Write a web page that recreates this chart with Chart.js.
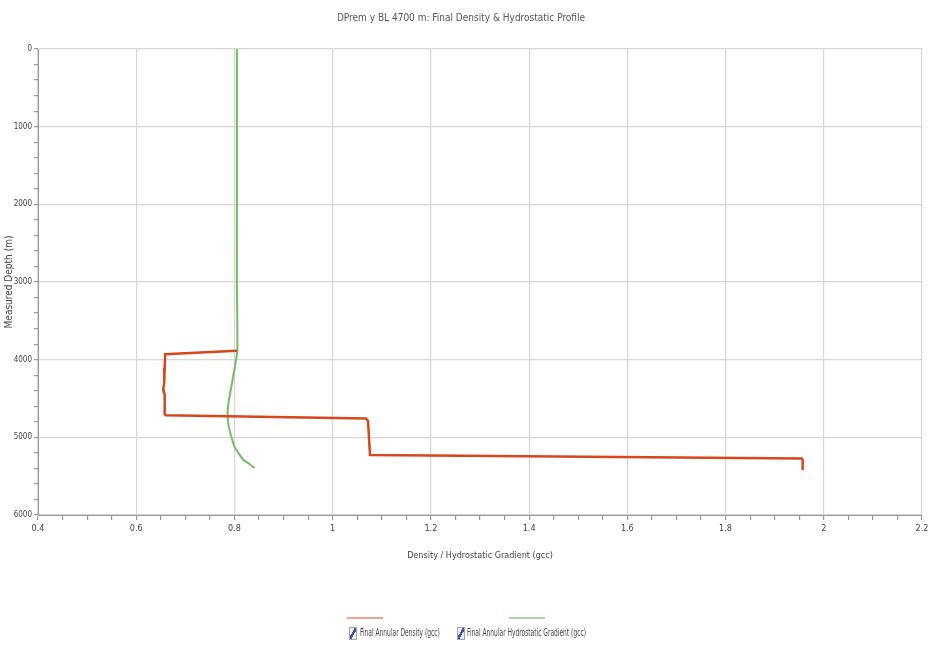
<!DOCTYPE html>
<html>
<head>
<meta charset="utf-8">
<script src="https://cdn.jsdelivr.net/npm/chart.js@4.4.1/dist/chart.umd.min.js"></script>
<style>
  body { margin: 0; background: #fff; }
  #wrap { position: relative; width: 940px; height: 651px; }
  #legend { position: absolute; left: 0; top: 0; width: 940px; height: 651px; pointer-events: none;
            font-family: "DejaVu Sans Condensed", "DejaVu Sans", sans-serif; font-size: 10px; color: #444; }
  .ln { position: absolute; height: 2px; width: 36px; top: 617px; }
  .cb { position: absolute; top: 627px; width: 6px; height: 11px; border: 1px solid #a0a6b6; background: #eef0f6;
        background-image: linear-gradient(to bottom right, transparent 38%, #4652a8 38%, #4652a8 62%, transparent 62%); }
  .tx { position: absolute; top: 627px; white-space: nowrap; transform: scaleX(0.66); transform-origin: left center; }
</style>
</head>
<body>
<div id="wrap">
  <canvas id="profileChart" width="940" height="651"></canvas>
  <div id="legend">
    <div class="ln" style="left:347px; background:#f0a48c;"></div>
    <div class="cb" style="left:349px;"></div>
    <div class="tx" style="left:360px;">Final Annular Density (gcc)</div>
    <div class="ln" style="left:509px; background:#a8d89c;"></div>
    <div class="cb" style="left:457px;"></div>
    <div class="tx" style="left:467px;">Final Annular Hydrostatic Gradient (gcc)</div>
  </div>
</div>
<script>
// density profile (gcc vs measured depth m)
const densityX     = [0.805, 0.659, 0.658, 0.657, 0.655, 0.656, 0.658, 0.658, 0.660, 1.068, 1.072, 1.076, 1.955, 1.957, 1.957];
const densityDepth = [3885,  3931,  4100,  4300,  4380,  4416,  4450,  4700,  4715,  4758,  4790,  5229,  5272,  5290,  5420];

// hydrostatic gradient profile
const hydroX     = [0.805, 0.805, 0.805, 0.805, 0.806, 0.802, 0.795, 0.788, 0.786, 0.788, 0.794, 0.800, 0.808, 0.818, 0.830, 0.841];
const hydroDepth = [0,     1000,  2000,  3000,  3880,  4050,  4300,  4550,  4700,  4850,  5000,  5120,  5200,  5290,  5340,  5396];

const xTickLabels = ['0.4', '0.6', '0.8', '1', '1.2', '1.4', '1.6', '1.8', '2', '2.2'];
const yTickLabels = ['0', '1000', '2000', '3000', '4000', '5000', '6000'];

const toPoints = (xs, ys) => xs.map((v, i) => ({ x: v, y: ys[i] }));
const FONT = "'DejaVu Sans Condensed', 'DejaVu Sans', sans-serif";

const isMajorX = v => Math.round(v * 100) % 20 === 0;
const isMajorY = v => Math.round(v) % 1000 === 0;

new Chart(document.getElementById('profileChart'), {
  type: 'scatter',
  data: {
    datasets: [
      {
        label: 'Final Annular Density (gcc)',
        data: toPoints(densityX, densityDepth),
        showLine: true,
        borderColor: '#d8461c',
        borderWidth: 2.5,
        pointRadius: 0,
        tension: 0
      },
      {
        label: 'Final Annular Hydrostatic Gradient (gcc)',
        data: toPoints(hydroX, hydroDepth),
        showLine: true,
        borderColor: '#74bd66',
        borderWidth: 2,
        pointRadius: 0,
        tension: 0.2
      }
    ]
  },
  options: {
    responsive: false,
    animation: false,
    layout: { padding: { left: 0, right: 18, top: 0, bottom: 86 } },
    plugins: {
      legend: { display: false },
      tooltip: { enabled: false },
      title: {
        display: true,
        text: 'DPrem y BL 4700 m: Final Density & Hydrostatic Profile',
        color: '#555',
        font: { family: FONT, size: 10, weight: 'normal' },
        padding: { top: 12, bottom: 25 }
      }
    },
    scales: {
      x: {
        type: 'linear',
        min: 0.4,
        max: 2.2,
        afterFit: s => { s.height = 50; },
        border: { color: '#999' },
        grid: {
          color: c => isMajorX(c.tick.value) ? '#d6d6d6' : 'transparent',
          tickColor: '#999',
          tickLength: 5,
          lineWidth: 1.2
        },
        ticks: {
          stepSize: 0.05,
          autoSkip: false,
          maxRotation: 0,
          color: '#444',
          font: { family: FONT, size: 9 },
          callback: v => isMajorX(v) ? xTickLabels[Math.round((v - 0.4) * 5)] : ''
        },
        title: {
          display: true,
          text: 'Density / Hydrostatic Gradient (gcc)',
          color: '#444',
          font: { family: FONT, size: 9 },
          padding: { top: 8 }
        }
      },
      y: {
        type: 'linear',
        reverse: true,
        min: 0,
        max: 6000,
        afterFit: s => { s.width = 38; },
        border: { color: '#999' },
        grid: {
          color: c => isMajorY(c.tick.value) ? '#d6d6d6' : 'transparent',
          tickColor: '#999',
          tickLength: 4,
          lineWidth: 1.2
        },
        ticks: {
          stepSize: 200,
          autoSkip: false,
          color: '#444',
          padding: 2,
          font: { family: FONT, size: 8 },
          callback: v => isMajorY(v) ? yTickLabels[Math.round(v / 1000)] : ''
        },
        title: {
          display: true,
          text: 'Measured Depth (m)',
          color: '#444',
          font: { family: FONT, size: 10 },
          padding: { top: 3, bottom: 0 }
        }
      }
    }
  }
});
</script>
</body>
</html>
